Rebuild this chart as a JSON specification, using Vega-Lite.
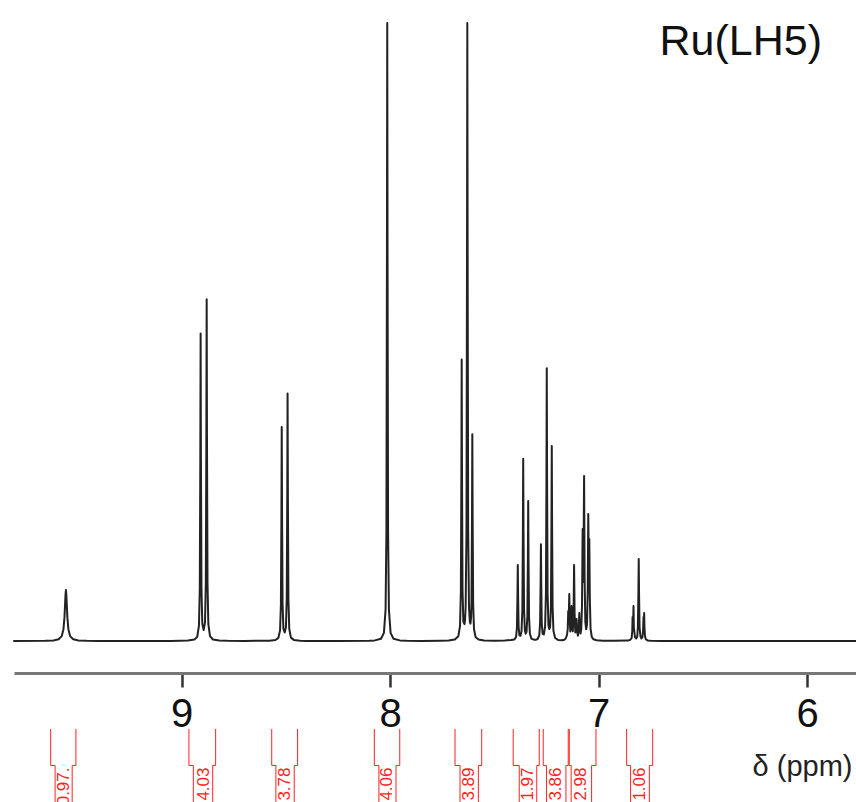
{
  "$schema": "https://vega.github.io/schema/vega-lite/v6.json",
  "width": 842,
  "height": 650,
  "autosize": {"type": "none"},
  "padding": {"left": 14, "top": 23, "right": 0, "bottom": 129},
  "background": "white",
  "title": {"text": "Ru(LH5)", "anchor": "end", "frame": "group", "orient": "top", "baseline": "alphabetic", "offset": -76, "dx": -34, "fontSize": 43, "fontWeight": "normal", "font": "Liberation Sans", "color": "#111"},
  "config": {"view": {"stroke": null}, "font": "Liberation Sans"},
  "datasets": {
    "spectrum": [
      {"ppm": 9.804, "intensity": 0},
      {"ppm": 9.655, "intensity": 0.2}, {"ppm": 9.615, "intensity": 0.6}, {"ppm": 9.59, "intensity": 1.7}, {"ppm": 9.575, "intensity": 4.9}, {"ppm": 9.567, "intensity": 11.6}, {"ppm": 9.562, "intensity": 23.6}, {"ppm": 9.559, "intensity": 37}, {"ppm": 9.557, "intensity": 46.4}, {"ppm": 9.555, "intensity": 51}, {"ppm": 9.553, "intensity": 46.4}, {"ppm": 9.551, "intensity": 37}, {"ppm": 9.548, "intensity": 23.6}, {"ppm": 9.543, "intensity": 11.6}, {"ppm": 9.535, "intensity": 4.9}, {"ppm": 9.52, "intensity": 1.7}, {"ppm": 9.495, "intensity": 0.6}, {"ppm": 9.455, "intensity": 0.2}, {"ppm": 9.4, "intensity": 0}, {"ppm": 9.05, "intensity": 0.1},
      {"ppm": 8.97, "intensity": 0.4}, {"ppm": 8.939, "intensity": 1.4}, {"ppm": 8.925, "intensity": 4.3}, {"ppm": 8.917, "intensity": 15.5}, {"ppm": 8.913, "intensity": 52.4}, {"ppm": 8.9105, "intensity": 181.7}, {"ppm": 8.909, "intensity": 307.4}, {"ppm": 8.9075, "intensity": 182}, {"ppm": 8.905, "intensity": 53.2}, {"ppm": 8.901, "intensity": 17.2}, {"ppm": 8.8945, "intensity": 11}, {"ppm": 8.888, "intensity": 18.5}, {"ppm": 8.884, "intensity": 58.7}, {"ppm": 8.8815, "intensity": 201.9}, {"ppm": 8.88, "intensity": 341.7}, {"ppm": 8.8785, "intensity": 201.7}, {"ppm": 8.876, "intensity": 58}, {"ppm": 8.872, "intensity": 17}, {"ppm": 8.864, "intensity": 4.8}, {"ppm": 8.85, "intensity": 1.5}, {"ppm": 8.82, "intensity": 0.5}, {"ppm": 8.78, "intensity": 0.2}, {"ppm": 8.7, "intensity": 0.1},
      {"ppm": 8.58, "intensity": 0.3}, {"ppm": 8.55, "intensity": 1.0}, {"ppm": 8.536, "intensity": 3.1}, {"ppm": 8.528, "intensity": 10.8}, {"ppm": 8.524, "intensity": 36.6}, {"ppm": 8.5215, "intensity": 126.6}, {"ppm": 8.52, "intensity": 214}, {"ppm": 8.5185, "intensity": 126.8}, {"ppm": 8.516, "intensity": 37.2}, {"ppm": 8.512, "intensity": 12.2}, {"ppm": 8.506, "intensity": 8.5}, {"ppm": 8.5, "intensity": 13.5}, {"ppm": 8.496, "intensity": 42.5}, {"ppm": 8.4935, "intensity": 146.4}, {"ppm": 8.492, "intensity": 247.4}, {"ppm": 8.4905, "intensity": 146.2}, {"ppm": 8.488, "intensity": 42}, {"ppm": 8.484, "intensity": 12.3}, {"ppm": 8.476, "intensity": 3.4}, {"ppm": 8.462, "intensity": 1.1}, {"ppm": 8.432, "intensity": 0.3}, {"ppm": 8.4, "intensity": 0.1}, {"ppm": 8.25, "intensity": 0.05},
      {"ppm": 8.1, "intensity": 0.2}, {"ppm": 8.074, "intensity": 0.6}, {"ppm": 8.044, "intensity": 2.3}, {"ppm": 8.03, "intensity": 8.1}, {"ppm": 8.022, "intensity": 31.2}, {"ppm": 8.018, "intensity": 109}, {"ppm": 8.0155, "intensity": 384}, {"ppm": 8.014, "intensity": 618}, {"ppm": 8.0125, "intensity": 384}, {"ppm": 8.01, "intensity": 109}, {"ppm": 8.006, "intensity": 31.2}, {"ppm": 7.998, "intensity": 8.1}, {"ppm": 7.984, "intensity": 2.3}, {"ppm": 7.954, "intensity": 0.6}, {"ppm": 7.92, "intensity": 0.2}, {"ppm": 7.85, "intensity": 0.1},
      {"ppm": 7.76, "intensity": 0.3}, {"ppm": 7.72, "intensity": 0.5}, {"ppm": 7.69, "intensity": 1.5}, {"ppm": 7.673, "intensity": 4.8}, {"ppm": 7.665, "intensity": 15.2}, {"ppm": 7.661, "intensity": 49.1}, {"ppm": 7.6585, "intensity": 166.9}, {"ppm": 7.657, "intensity": 281.4}, {"ppm": 7.6555, "intensity": 167.5}, {"ppm": 7.653, "intensity": 51}, {"ppm": 7.649, "intensity": 19.5}, {"ppm": 7.6435, "intensity": 16.8}, {"ppm": 7.641, "intensity": 21}, {"ppm": 7.638, "intensity": 34.3}, {"ppm": 7.634, "intensity": 111.5}, {"ppm": 7.6315, "intensity": 386.5}, {"ppm": 7.63, "intensity": 618}, {"ppm": 7.6285, "intensity": 386.4}, {"ppm": 7.626, "intensity": 111.5}, {"ppm": 7.622, "intensity": 34.4}, {"ppm": 7.618, "intensity": 19.3}, {"ppm": 7.615, "intensity": 17.4}, {"ppm": 7.612, "intensity": 23.6}, {"ppm": 7.61, "intensity": 39.6}, {"ppm": 7.6075, "intensity": 124.3}, {"ppm": 7.606, "intensity": 206.7}, {"ppm": 7.6045, "intensity": 123.1}, {"ppm": 7.602, "intensity": 37.1}, {"ppm": 7.598, "intensity": 12}, {"ppm": 7.59, "intensity": 3.8}, {"ppm": 7.576, "intensity": 1.4}, {"ppm": 7.55, "intensity": 0.5}, {"ppm": 7.5, "intensity": 0.3},
      {"ppm": 7.45, "intensity": 0.5}, {"ppm": 7.42, "intensity": 1.0}, {"ppm": 7.404, "intensity": 1.4}, {"ppm": 7.396, "intensity": 4.2}, {"ppm": 7.392, "intensity": 13.7}, {"ppm": 7.3895, "intensity": 45.8}, {"ppm": 7.388, "intensity": 76}, {"ppm": 7.3865, "intensity": 46}, {"ppm": 7.384, "intensity": 14.2}, {"ppm": 7.38, "intensity": 5.7}, {"ppm": 7.375, "intensity": 5.2}, {"ppm": 7.37, "intensity": 9.9}, {"ppm": 7.366, "intensity": 31.7}, {"ppm": 7.3635, "intensity": 108.5}, {"ppm": 7.362, "intensity": 182.3}, {"ppm": 7.3605, "intensity": 108.6}, {"ppm": 7.358, "intensity": 32}, {"ppm": 7.354, "intensity": 10.7}, {"ppm": 7.35, "intensity": 7.3}, {"ppm": 7.346, "intensity": 9.1}, {"ppm": 7.342, "intensity": 25}, {"ppm": 7.3395, "intensity": 83.8}, {"ppm": 7.338, "intensity": 140}, {"ppm": 7.3365, "intensity": 83.5}, {"ppm": 7.334, "intensity": 24.2}, {"ppm": 7.33, "intensity": 7.3}, {"ppm": 7.322, "intensity": 2.1}, {"ppm": 7.308, "intensity": 1.3},
      {"ppm": 7.3, "intensity": 1.3}, {"ppm": 7.293, "intensity": 2.0}, {"ppm": 7.285, "intensity": 5.6}, {"ppm": 7.281, "intensity": 17.4}, {"ppm": 7.2785, "intensity": 58.4}, {"ppm": 7.277, "intensity": 96.7}, {"ppm": 7.2755, "intensity": 58.8}, {"ppm": 7.273, "intensity": 18}, {"ppm": 7.269, "intensity": 7.2}, {"ppm": 7.263, "intensity": 6.5}, {"ppm": 7.257, "intensity": 14.5}, {"ppm": 7.253, "intensity": 47.2}, {"ppm": 7.2505, "intensity": 162.4}, {"ppm": 7.249, "intensity": 272.7}, {"ppm": 7.2475, "intensity": 162.6}, {"ppm": 7.245, "intensity": 47.8}, {"ppm": 7.241, "intensity": 15.7}, {"ppm": 7.237, "intensity": 12}, {"ppm": 7.233, "intensity": 14}, {"ppm": 7.229, "intensity": 35}, {"ppm": 7.2265, "intensity": 116.7}, {"ppm": 7.225, "intensity": 195}, {"ppm": 7.2235, "intensity": 116.4}, {"ppm": 7.221, "intensity": 33.9}, {"ppm": 7.217, "intensity": 10.3}, {"ppm": 7.209, "intensity": 3.0}, {"ppm": 7.195, "intensity": 1.1}, {"ppm": 7.175, "intensity": 0.7},
      {"ppm": 7.165, "intensity": 1.2}, {"ppm": 7.158, "intensity": 2.5}, {"ppm": 7.152, "intensity": 6}, {"ppm": 7.1485, "intensity": 12}, {"ppm": 7.146, "intensity": 30}, {"ppm": 7.1435, "intensity": 24}, {"ppm": 7.141, "intensity": 47}, {"ppm": 7.1385, "intensity": 17}, {"ppm": 7.136, "intensity": 9.5}, {"ppm": 7.1325, "intensity": 15.2}, {"ppm": 7.13, "intensity": 35}, {"ppm": 7.1275, "intensity": 15.4}, {"ppm": 7.124, "intensity": 9.7}, {"ppm": 7.1205, "intensity": 27.3}, {"ppm": 7.118, "intensity": 76}, {"ppm": 7.1155, "intensity": 27.2}, {"ppm": 7.112, "intensity": 8.6}, {"ppm": 7.1085, "intensity": 10}, {"ppm": 7.106, "intensity": 22}, {"ppm": 7.1035, "intensity": 9.8}, {"ppm": 7.0995, "intensity": 5.3}, {"ppm": 7.0955, "intensity": 12.2}, {"ppm": 7.093, "intensity": 28}, {"ppm": 7.0905, "intensity": 12.9}, {"ppm": 7.087, "intensity": 7.5}, {"ppm": 7.0835, "intensity": 12.2}, {"ppm": 7.08, "intensity": 36}, {"ppm": 7.077, "intensity": 112}, {"ppm": 7.0735, "intensity": 59}, {"ppm": 7.07, "intensity": 165}, {"ppm": 7.0675, "intensity": 61.9}, {"ppm": 7.064, "intensity": 18.8}, {"ppm": 7.06, "intensity": 11.7}, {"ppm": 7.056, "intensity": 16.7}, {"ppm": 7.0525, "intensity": 51}, {"ppm": 7.05, "intensity": 127}, {"ppm": 7.0475, "intensity": 78.8}, {"ppm": 7.045, "intensity": 102}, {"ppm": 7.0425, "intensity": 42.5}, {"ppm": 7.039, "intensity": 12.4}, {"ppm": 7.033, "intensity": 4}, {"ppm": 7.025, "intensity": 1.7}, {"ppm": 7.01, "intensity": 0.75}, {"ppm": 6.98, "intensity": 0.3}, {"ppm": 6.93, "intensity": 0.15},
      {"ppm": 6.86, "intensity": 0.4}, {"ppm": 6.848, "intensity": 1.2}, {"ppm": 6.842, "intensity": 3}, {"ppm": 6.839, "intensity": 10}, {"ppm": 6.8375, "intensity": 24}, {"ppm": 6.836, "intensity": 12}, {"ppm": 6.8345, "intensity": 20}, {"ppm": 6.833, "intensity": 35}, {"ppm": 6.8315, "intensity": 14}, {"ppm": 6.829, "intensity": 9}, {"ppm": 6.826, "intensity": 4}, {"ppm": 6.82, "intensity": 2.5}, {"ppm": 6.815, "intensity": 4.5}, {"ppm": 6.812, "intensity": 14}, {"ppm": 6.8095, "intensity": 48}, {"ppm": 6.808, "intensity": 82}, {"ppm": 6.8065, "intensity": 48}, {"ppm": 6.804, "intensity": 14}, {"ppm": 6.8, "intensity": 5}, {"ppm": 6.795, "intensity": 2.5}, {"ppm": 6.79, "intensity": 4}, {"ppm": 6.787, "intensity": 11}, {"ppm": 6.785, "intensity": 24}, {"ppm": 6.7835, "intensity": 12}, {"ppm": 6.782, "intensity": 28}, {"ppm": 6.7805, "intensity": 14}, {"ppm": 6.778, "intensity": 5}, {"ppm": 6.774, "intensity": 1.8}, {"ppm": 6.766, "intensity": 0.6}, {"ppm": 6.75, "intensity": 0.2}, {"ppm": 6.7, "intensity": 0.1},
      {"ppm": 5.766, "intensity": 0}
    ],
    "integrals": [
      {"hi": 9.628, "lo": 9.507, "hiIn": 9.607, "loIn": 9.525, "center": 9.566, "label": "0.97."},
      {"hi": 8.965, "lo": 8.837, "hiIn": 8.944, "loIn": 8.851, "center": 8.895, "label": "4.03"},
      {"hi": 8.568, "lo": 8.444, "hiIn": 8.548, "loIn": 8.46, "center": 8.504, "label": "3.78"},
      {"hi": 8.076, "lo": 7.954, "hiIn": 8.054, "loIn": 7.972, "center": 8.013, "label": "4.06"},
      {"hi": 7.689, "lo": 7.561, "hiIn": 7.665, "loIn": 7.577, "center": 7.621, "label": "3.89"},
      {"hi": 7.41, "lo": 7.285, "hiIn": 7.381, "loIn": 7.297, "center": 7.339, "label": "1.97"},
      {"hi": 7.266, "lo": 7.146, "hiIn": 7.25, "loIn": 7.157, "center": 7.204, "label": "3.86"},
      {"hi": 7.141, "lo": 7.013, "hiIn": 7.132, "loIn": 7.034, "center": 7.083, "label": "2.98"},
      {"hi": 6.866, "lo": 6.741, "hiIn": 6.847, "loIn": 6.757, "center": 6.802, "label": "1.06"}
    ]
  },
  "layer": [
    {
      "data": {"name": "spectrum"},
      "mark": {"type": "line", "color": "#222", "strokeWidth": 2, "strokeJoin": "round", "strokeCap": "round"},
      "encoding": {
        "x": {
          "field": "ppm", "type": "quantitative",
          "scale": {"domain": [5.766, 9.804], "reverse": true, "nice": false, "zero": false},
          "axis": {
            "values": [6, 7, 8, 9], "format": "d", "grid": false,
            "title": "δ (ppm)",
            "domainColor": "#777", "domainWidth": 3,
            "tickColor": "#333", "tickWidth": 2.5, "tickSize": 14,
            "labelFontSize": 40, "labelFont": "Liberation Sans", "labelColor": "#111", "labelPadding": 7,
            "titleFontSize": 29, "titleFont": "Liberation Sans", "titleFontWeight": "normal", "titleColor": "#222",
            "titleX": 838, "titleY": 102, "titleAlign": "right", "titleBaseline": "alphabetic", "titleAnchor": "end"
          }
        },
        "y": {"field": "intensity", "type": "quantitative", "scale": {"domain": [-32, 618], "nice": false, "zero": false}, "axis": null}
      }
    },
    {
      "data": {"name": "integrals"},
      "transform": [{"fold": ["hi", "lo"], "as": ["edge", "pos"]}],
      "mark": {"type": "rule", "color": "#f22", "strokeWidth": 1},
      "encoding": {
        "x": {"field": "pos", "type": "quantitative", "scale": {"domain": [5.766, 9.804], "reverse": true, "nice": false, "zero": false}},
        "y": {"datum": -88, "type": "quantitative", "scale": {"domain": [-32, 618], "nice": false, "zero": false}, "axis": null},
        "y2": {"datum": -124.5}
      }
    },
    {
      "data": {"name": "integrals"},
      "transform": [{"fold": ["hiIn", "loIn"], "as": ["edge", "pos"]}],
      "mark": {"type": "rule", "color": "#f22", "strokeWidth": 1},
      "encoding": {
        "x": {"field": "pos", "type": "quantitative", "scale": {"domain": [5.766, 9.804], "reverse": true, "nice": false, "zero": false}},
        "y": {"datum": -124.5, "type": "quantitative", "scale": {"domain": [-32, 618], "nice": false, "zero": false}, "axis": null},
        "y2": {"datum": -175}
      }
    },
    {
      "data": {"name": "integrals"},
      "mark": {"type": "rule", "color": "#f22", "strokeWidth": 1},
      "encoding": {
        "x": {"field": "hi", "type": "quantitative", "scale": {"domain": [5.766, 9.804], "reverse": true, "nice": false, "zero": false}},
        "x2": {"field": "hiIn"},
        "y": {"datum": -124.5, "type": "quantitative", "scale": {"domain": [-32, 618], "nice": false, "zero": false}, "axis": null}
      }
    },
    {
      "data": {"name": "integrals"},
      "mark": {"type": "rule", "color": "#f22", "strokeWidth": 1},
      "encoding": {
        "x": {"field": "lo", "type": "quantitative", "scale": {"domain": [5.766, 9.804], "reverse": true, "nice": false, "zero": false}},
        "x2": {"field": "loIn"},
        "y": {"datum": -124.5, "type": "quantitative", "scale": {"domain": [-32, 618], "nice": false, "zero": false}, "axis": null}
      }
    },
    {
      "data": {"name": "integrals"},
      "mark": {"type": "text", "color": "#f22", "font": "Liberation Sans", "fontSize": 17, "angle": 270, "align": "right", "baseline": "middle"},
      "encoding": {
        "x": {"field": "center", "type": "quantitative", "scale": {"domain": [5.766, 9.804], "reverse": true, "nice": false, "zero": false}},
        "y": {"datum": -126.5, "type": "quantitative", "scale": {"domain": [-32, 618], "nice": false, "zero": false}, "axis": null},
        "text": {"field": "label"}
      }
    }
  ]
}
